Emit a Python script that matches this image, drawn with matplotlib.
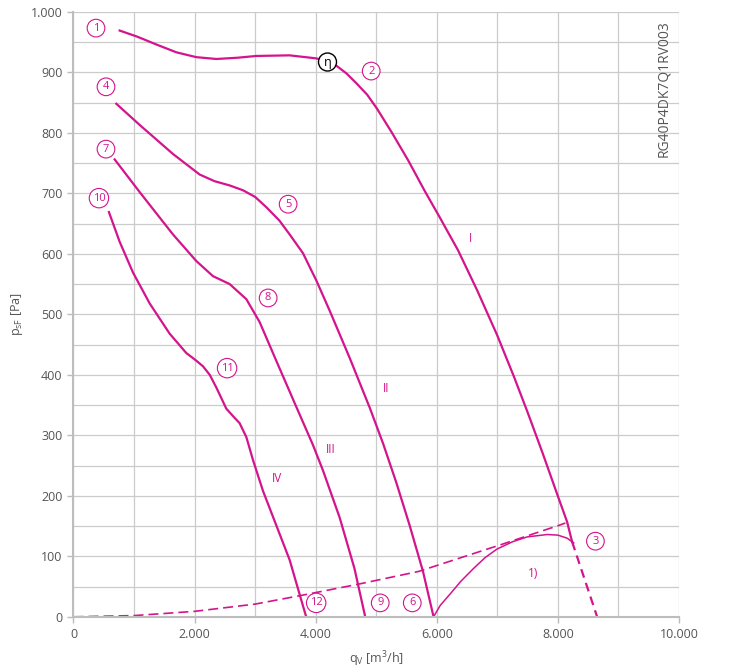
import matplotlib
matplotlib.use("Agg")
import matplotlib.pyplot as plt
from matplotlib.ticker import MultipleLocator, FuncFormatter

plt.rcParams['font.family'] = ['Open Sans', 'DejaVu Sans']
plt.rcParams['mathtext.default'] = 'regular'

MAG = '#d4148c'
GRID = '#cbcbcb'
TXT = '#555555'

# ---- data ----
c1_x = [762, 1050, 1368, 1700, 2029, 2359, 2700, 3020, 3570, 4010, 4186, 4341, 4510, 4671, 4850, 5012, 5260, 5530, 5800, 6050, 6350, 6665, 6995, 7270, 7500, 7750, 7987, 8152, 8235]
c1_y = [969, 959, 946, 933, 925, 922, 924, 927, 928, 923, 918, 911, 898, 882, 863, 840, 800, 754, 704, 660, 606, 540, 466, 398, 338, 270, 203, 157, 124]
c1_ext_x = [8235, 8648]
c1_ext_y = [124, 0]

c2_x = [707, 1093, 1643, 2084, 2330, 2579, 2799, 3000, 3185, 3400, 3570, 3790, 4010, 4231, 4561, 4891, 5111, 5331, 5552, 5772, 5947]
c2_y = [848, 813, 765, 731, 720, 713, 705, 694, 677, 655, 632, 601, 556, 506, 428, 346, 287, 222, 151, 75, 0]

c3_x = [680, 1093, 1643, 2029, 2304, 2579, 2855, 3075, 3350, 3680, 3955, 4120, 4396, 4640, 4818]
c3_y = [756, 702, 632, 588, 563, 550, 525, 487, 423, 347, 284, 242, 164, 80, 0]

c4_x = [585, 762, 983, 1258, 1588, 1863, 2020, 2139, 2250, 2359, 2524, 2650, 2744, 2855, 2965, 3130, 3350, 3570, 3735, 3843]
c4_y = [669, 620, 569, 518, 468, 436, 424, 414, 400, 379, 344, 330, 320, 297, 259, 208, 151, 94, 37, 0]

arc_x = [5947, 6058, 6223, 6400, 6608, 6800, 6995, 7250, 7490, 7821, 8000, 8152, 8262]
arc_y = [0, 19, 38, 59, 80, 98, 112, 124, 132, 136, 135, 130, 122]

sys_x = [0, 1000, 2000, 3000, 3744, 4708, 5700, 7052, 8041, 8124]
sys_y = [0, 2, 9, 21, 35, 54, 75, 119, 152, 155]

circ_labels = ['1', '2', '3', '4', '5', '6', '7', '8', '9', '10', '11', '12']
circ_x = [372, 4917, 8620, 537, 3545, 5595, 537, 3215, 5066, 421, 2537, 4008]
circ_y = [973, 902, 125, 876, 682, 23, 773, 527, 23, 692, 411, 23]

roman_labels = ['I', 'II', 'III', 'IV', '1)']
roman_x = [6554, 5165, 4256, 3364, 7595]
roman_y = [626, 378, 276, 229, 72]

eta_x, eta_y = 4195, 917
model_code = 'RG40P4DK7Q1RV003'

# ---- figure ----
fig = plt.figure(figsize=(7.29, 6.70), dpi=100)
ax = fig.add_axes([0.1008, 0.0794, 0.8306, 0.903])
ax.set_xlim(0, 10000)
ax.set_ylim(0, 1000)

ax.xaxis.set_major_locator(MultipleLocator(2000))
ax.xaxis.set_minor_locator(MultipleLocator(1000))
ax.yaxis.set_major_locator(MultipleLocator(100))
ax.yaxis.set_minor_locator(MultipleLocator(50))
fmt = FuncFormatter(lambda v, p: f"{int(v):,}".replace(',', '.'))
ax.xaxis.set_major_formatter(fmt)
ax.yaxis.set_major_formatter(fmt)
ax.grid(True, which='both', color=GRID, linewidth=0.9)
ax.set_axisbelow(True)
ax.tick_params(which='major', length=4, width=1, color='#bbbbbb', labelcolor=TXT, labelsize=9, pad=4)
ax.tick_params(which='minor', length=0)
for s in ['top', 'right']:
    ax.spines[s].set_visible(False)
for s in ['left', 'bottom']:
    ax.spines[s].set_color('#bdbdbd')
    ax.spines[s].set_linewidth(1.5)

lw = 1.6
ax.plot(c1_x, c1_y, color=MAG, lw=lw, solid_joinstyle='round')
ax.plot(c1_ext_x, c1_ext_y, color=MAG, lw=lw, ls=(0, (4, 2.5)))
ax.plot(c2_x, c2_y, color=MAG, lw=lw, solid_joinstyle='round')
ax.plot(c3_x, c3_y, color=MAG, lw=lw, solid_joinstyle='round')
ax.plot(c4_x, c4_y, color=MAG, lw=lw, solid_joinstyle='round')
ax.plot(arc_x, arc_y, color=MAG, lw=1.1, solid_joinstyle='round')
ax.plot(sys_x, sys_y, color=MAG, lw=1.2, ls=(0, (6, 3)))

for t, x, y in zip(circ_labels, circ_x, circ_y):
    ax.text(x, y, t, color=MAG, fontsize=8, ha='center', va='center',
            bbox=dict(boxstyle='circle,pad=0.3', fc='white', ec=MAG, lw=0.8))

for t, x, y in zip(roman_labels, roman_x, roman_y):
    ax.text(x, y, t, color=MAG, fontsize=8.5, ha='center', va='center')

ax.text(eta_x, eta_y, 'η', color='black', fontsize=9, ha='center', va='center',
        bbox=dict(boxstyle='circle,pad=0.2', fc='white', ec='black', lw=1.0))

ax.text(9744, 873, model_code, rotation=90, color=TXT, fontsize=10,
        ha='center', va='center')

ax.set_xlabel('q$_V$ [m$^3$/h]', color=TXT, fontsize=9, labelpad=6)
ax.set_ylabel('p$_{sF}$ [Pa]', color=TXT, fontsize=9, labelpad=4)

fig.savefig('out.png', dpi=100)
